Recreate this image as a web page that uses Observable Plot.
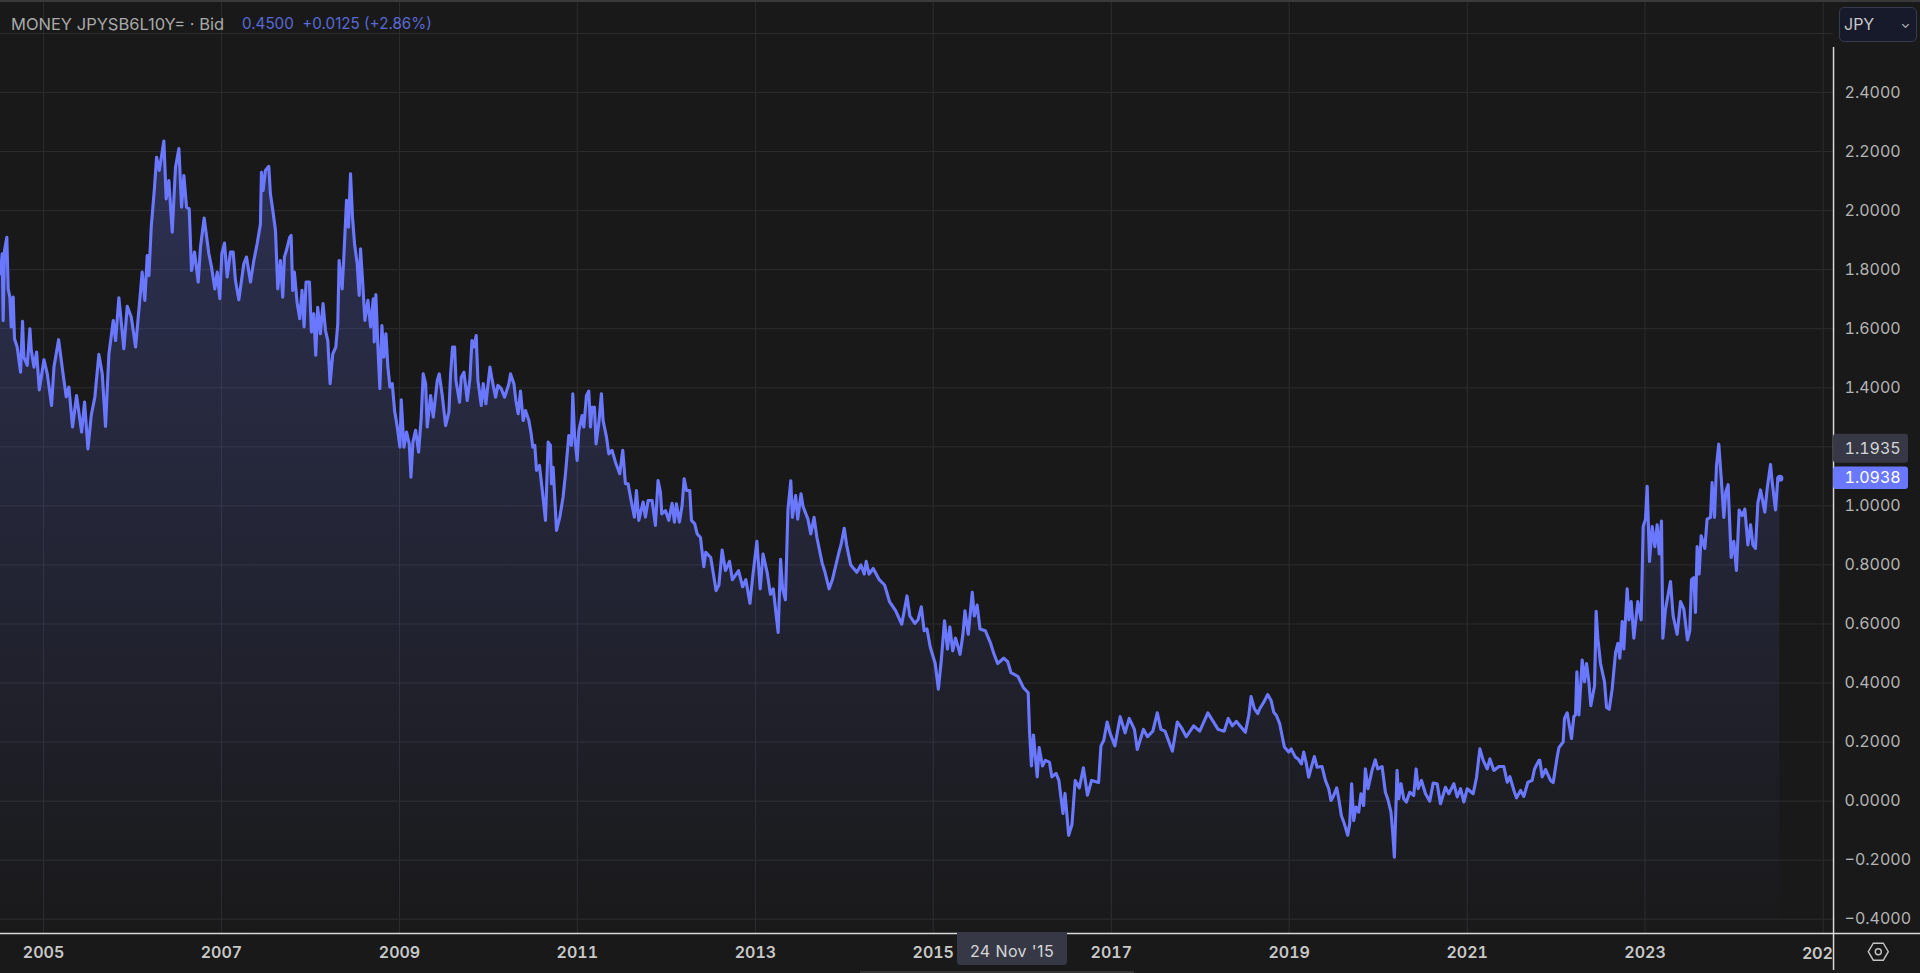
<!DOCTYPE html>
<html>
<head>
<meta charset="utf-8">
<script src="https://cdn.jsdelivr.net/npm/d3@7"></script>
<script src="https://cdn.jsdelivr.net/npm/@observablehq/plot@0.6"></script>
<style>
html,body{margin:0;padding:0;background:#191919;width:1920px;height:973px;overflow:hidden;font-family:Inter,sans-serif}
#chart{position:absolute;left:0;top:0}
.ov{position:absolute;white-space:pre;font-family:Inter,sans-serif}
</style>
</head>
<body>
<div id="chart"></div>
<div class="ov" style="left:0;top:0;width:1920px;height:2px;background:#3a3a3a"></div>
<div class="ov" style="left:11px;top:13.5px;font-size:16.5px;line-height:20px;color:#a9a9a9">MONEY JPYSB6L10Y= · Bid</div>
<div class="ov" style="left:242px;top:13.5px;font-size:15.2px;line-height:20px;color:#5a69d6">0.4500  +0.0125 (+2.86%)</div>
<div class="ov" style="left:1839px;top:7px;width:76px;height:33px;background:#161a2a;border:1px solid #363a4c;border-radius:5px;box-sizing:content-box;color:#c8c8c8;font-size:16px;line-height:33px;text-indent:4px">JPY<span style="position:absolute;right:6px;top:-1px;font-size:12px;color:#c8c8c8">⌄</span></div>
<div class="ov" style="left:957px;top:932px;width:110px;height:33px;background:#363945;border-radius:0 0 4px 4px;color:#d6d6d6;font-size:16px;line-height:38px;text-align:center;letter-spacing:.4px">24 Nov '15</div>
<div class="ov" style="left:860px;top:971px;width:274px;height:2px;background:#333"></div>
<script>
const years = [
2004.517,2004.536,2004.547,2004.562,2004.588,2004.603,2004.622,2004.637,2004.659,2004.674,
2004.704,2004.742,2004.764,2004.779,2004.817,2004.847,2004.862,2004.892,2004.922,2004.952,
2004.974,2005.004,2005.042,2005.090,2005.117,2005.169,2005.214,2005.255,2005.285,2005.326,
2005.371,2005.428,2005.461,2005.499,2005.536,2005.577,2005.622,2005.660,2005.697,2005.735,
2005.784,2005.810,2005.847,2005.903,2005.941,2005.986,2006.035,2006.080,2006.109,2006.139,
2006.166,2006.185,2006.211,2006.248,2006.271,2006.301,2006.331,2006.353,2006.379,2006.409,
2006.447,2006.484,2006.522,2006.552,2006.578,2006.608,2006.638,2006.664,2006.698,2006.739,
2006.765,2006.806,2006.859,2006.889,2006.926,2006.953,2006.982,2007.005,2007.035,2007.065,
2007.102,2007.132,2007.158,2007.196,2007.252,2007.282,2007.327,2007.365,2007.402,2007.439,
2007.450,2007.469,2007.495,2007.533,2007.551,2007.578,2007.608,2007.634,2007.664,2007.690,
2007.709,2007.731,2007.769,2007.784,2007.802,2007.821,2007.851,2007.881,2007.907,2007.930,
2007.952,2007.990,2008.012,2008.039,2008.061,2008.083,2008.113,2008.143,2008.170,2008.196,
2008.222,2008.252,2008.286,2008.308,2008.323,2008.357,2008.376,2008.406,2008.428,2008.451,
2008.473,2008.496,2008.526,2008.548,2008.563,2008.586,2008.612,2008.646,2008.676,2008.706,
2008.717,2008.735,2008.758,2008.780,2008.803,2008.825,2008.848,2008.870,2008.893,2008.919,
2008.945,2008.975,2009.005,2009.020,2009.050,2009.080,2009.110,2009.129,2009.151,2009.181,
2009.215,2009.245,2009.267,2009.294,2009.312,2009.350,2009.380,2009.425,2009.447,2009.481,
2009.519,2009.556,2009.575,2009.597,2009.620,2009.635,2009.676,2009.695,2009.725,2009.762,
2009.792,2009.815,2009.837,2009.863,2009.882,2009.920,2009.942,2009.972,2010.017,2010.043,
2010.081,2010.107,2010.144,2010.182,2010.231,2010.249,2010.287,2010.309,2010.335,2010.361,
2010.391,2010.417,2010.455,2010.481,2010.499,2010.522,2010.541,2010.574,2010.604,2010.642,
2010.672,2010.698,2010.709,2010.728,2010.766,2010.803,2010.840,2010.867,2010.904,2010.934,
2010.949,2010.968,2010.998,2011.017,2011.054,2011.073,2011.103,2011.129,2011.148,2011.166,
2011.193,2011.211,2011.241,2011.271,2011.290,2011.328,2011.354,2011.391,2011.429,2011.477,
2011.511,2011.541,2011.571,2011.605,2011.642,2011.665,2011.691,2011.740,2011.766,2011.796,
2011.841,2011.878,2011.908,2011.935,2011.950,2011.991,2012.028,2012.066,2012.092,2012.114,
2012.148,2012.178,2012.201,2012.227,2012.264,2012.283,2012.320,2012.347,2012.384,2012.421,
2012.444,2012.499,2012.559,2012.591,2012.627,2012.664,2012.710,2012.742,2012.811,2012.857,
2012.893,2012.939,2012.971,2013.017,2013.054,2013.086,2013.132,2013.169,2013.201,2013.256,
2013.283,2013.306,2013.338,2013.366,2013.398,2013.416,2013.453,2013.476,2013.513,2013.536,
2013.591,2013.623,2013.660,2013.692,2013.751,2013.783,2013.829,2013.866,2013.935,2013.967,
2013.999,2014.026,2014.072,2014.141,2014.187,2014.224,2014.246,2014.279,2014.325,2014.393,
2014.453,2014.508,2014.577,2014.646,2014.705,2014.737,2014.793,2014.829,2014.866,2014.898,
2014.930,2014.967,2015.022,2015.058,2015.091,2015.127,2015.160,2015.187,2015.219,2015.251,
2015.302,2015.334,2015.357,2015.394,2015.439,2015.462,2015.494,2015.526,2015.586,2015.646,
2015.678,2015.724,2015.793,2015.838,2015.875,2015.953,2016.013,2016.068,2016.082,2016.104,
2016.127,2016.169,2016.191,2016.228,2016.260,2016.306,2016.334,2016.380,2016.412,2016.458,
2016.481,2016.522,2016.559,2016.595,2016.641,2016.687,2016.733,2016.779,2016.857,2016.884,
2016.916,2016.953,2016.985,2017.040,2017.100,2017.155,2017.201,2017.260,2017.292,2017.361,
2017.407,2017.467,2017.517,2017.558,2017.604,2017.687,2017.742,2017.788,2017.843,2017.926,
2017.994,2018.086,2018.201,2018.270,2018.315,2018.361,2018.407,2018.508,2018.546,2018.572,
2018.609,2018.647,2018.669,2018.714,2018.759,2018.797,2018.827,2018.857,2018.894,2018.920,
2018.947,2018.995,2019.022,2019.070,2019.100,2019.138,2019.164,2019.194,2019.220,2019.250,
2019.284,2019.314,2019.370,2019.408,2019.445,2019.471,2019.501,2019.535,2019.561,2019.587,
2019.621,2019.659,2019.681,2019.703,2019.726,2019.752,2019.782,2019.808,2019.838,2019.857,
2019.887,2019.932,2019.969,2019.996,2020.045,2020.082,2020.108,2020.145,2020.164,2020.183,
2020.198,2020.213,2020.232,2020.258,2020.288,2020.318,2020.355,2020.400,2020.427,2020.449,
2020.487,2020.532,2020.580,2020.618,2020.663,2020.700,2020.756,2020.794,2020.850,2020.888,
2020.925,2020.963,2021.000,2021.067,2021.105,2021.142,2021.180,2021.225,2021.255,2021.300,
2021.356,2021.412,2021.450,2021.480,2021.525,2021.555,2021.600,2021.637,2021.682,2021.730,
2021.757,2021.806,2021.817,2021.843,2021.881,2021.937,2021.967,2022.012,2022.031,2022.079,
2022.094,2022.124,2022.173,2022.199,2022.218,2022.233,2022.256,2022.293,2022.319,2022.342,
2022.368,2022.390,2022.432,2022.450,2022.469,2022.499,2022.544,2022.567,2022.597,2022.630,
2022.668,2022.694,2022.716,2022.743,2022.761,2022.799,2022.818,2022.844,2022.874,2022.919,
2022.956,2022.979,2023.005,2023.024,2023.050,2023.080,2023.110,2023.136,2023.159,2023.185,
2023.200,2023.230,2023.286,2023.316,2023.361,2023.399,2023.436,2023.477,2023.503,2023.522,
2023.548,2023.567,2023.586,2023.608,2023.631,2023.672,2023.698,2023.736,2023.754,2023.781,
2023.803,2023.829,2023.856,2023.886,2023.908,2023.934,2023.968,2023.998,2024.028,2024.058,
2024.092,2024.122,2024.156,2024.186,2024.212,2024.241,2024.268,2024.298,2024.346,2024.373,
2024.410,2024.429,2024.466,2024.492,2024.515
];
const yields = [
1.786,1.854,1.628,1.865,1.910,1.735,1.707,1.606,1.707,1.566,
1.538,1.453,1.625,1.504,1.476,1.600,1.527,1.470,1.521,1.393,
1.436,1.495,1.447,1.340,1.470,1.563,1.459,1.369,1.402,1.267,
1.374,1.250,1.352,1.193,1.306,1.369,1.513,1.447,1.269,1.515,
1.628,1.560,1.705,1.532,1.676,1.640,1.538,1.690,1.792,1.696,
1.848,1.780,1.944,2.080,2.181,2.136,2.193,2.236,2.040,2.102,
1.927,2.147,2.210,2.012,2.119,2.012,2.006,1.797,1.860,1.758,
1.877,1.975,1.854,1.809,1.735,1.792,1.702,1.854,1.890,1.775,
1.860,1.860,1.764,1.698,1.820,1.843,1.758,1.831,1.888,1.955,
2.130,2.068,2.136,2.150,2.057,2.001,1.933,1.735,1.831,1.707,
1.843,1.865,1.910,1.916,1.730,1.792,1.690,1.634,1.730,1.606,
1.758,1.758,1.589,1.651,1.510,1.673,1.583,1.685,1.594,1.560,
1.414,1.515,1.538,1.617,1.831,1.735,1.843,2.035,1.944,2.125,
1.978,1.888,1.820,1.713,1.871,1.764,1.628,1.696,1.606,1.701,
1.555,1.716,1.538,1.397,1.611,1.504,1.583,1.470,1.402,1.414,
1.323,1.267,1.199,1.359,1.199,1.250,1.210,1.097,1.216,1.256,
1.182,1.301,1.447,1.414,1.267,1.374,1.301,1.425,1.447,1.374,
1.272,1.318,1.447,1.538,1.538,1.425,1.351,1.436,1.453,1.357,
1.430,1.560,1.538,1.577,1.425,1.340,1.414,1.346,1.470,1.425,
1.368,1.408,1.397,1.368,1.414,1.447,1.414,1.357,1.312,1.389,
1.289,1.323,1.289,1.244,1.199,1.205,1.120,1.137,1.058,0.951,
1.216,1.205,1.075,1.131,0.917,0.962,1.030,1.109,1.238,1.205,
1.380,1.244,1.154,1.255,1.306,1.267,1.374,1.389,1.267,1.334,
1.334,1.210,1.278,1.380,1.289,1.233,1.176,1.188,1.148,1.109,
1.188,1.075,1.075,1.018,0.962,1.052,0.951,1.013,0.962,1.018,
1.018,0.934,1.086,1.047,0.973,0.984,0.951,1.009,0.945,1.007,
0.945,1.001,1.092,1.052,1.052,0.951,0.939,0.905,0.893,0.794,
0.843,0.825,0.713,0.732,0.850,0.781,0.812,0.750,0.781,0.726,
0.750,0.670,0.763,0.880,0.719,0.837,0.775,0.701,0.719,0.571,
0.819,0.719,0.682,0.986,1.085,0.961,1.035,0.955,1.041,0.998,
0.955,0.905,0.961,0.893,0.806,0.775,0.719,0.750,0.837,0.874,
0.924,0.868,0.800,0.775,0.800,0.769,0.812,0.769,0.788,0.750,
0.732,0.676,0.645,0.599,0.695,0.627,0.602,0.614,0.658,0.577,
0.583,0.521,0.466,0.379,0.478,0.611,0.515,0.590,0.509,0.552,
0.497,0.565,0.645,0.565,0.707,0.627,0.664,0.583,0.577,0.534,
0.503,0.466,0.484,0.472,0.435,0.422,0.385,0.367,0.243,0.119,
0.224,0.082,0.181,0.119,0.138,0.132,0.082,0.094,0.070,-0.042,
0.026,-0.116,-0.079,0.070,0.045,0.113,0.020,0.070,0.063,0.187,
0.206,0.268,0.231,0.187,0.286,0.231,0.280,0.243,0.175,0.243,
0.218,0.237,0.299,0.243,0.237,0.169,0.268,0.249,0.218,0.255,
0.237,0.299,0.243,0.237,0.280,0.255,0.270,0.233,0.290,0.354,
0.313,0.296,0.313,0.335,0.361,0.341,0.301,0.290,0.262,0.222,
0.183,0.166,0.177,0.149,0.143,0.126,0.166,0.126,0.081,0.115,
0.151,0.115,0.117,0.070,0.042,0.002,0.019,0.045,0.002,-0.049,
-0.077,-0.116,-0.077,0.059,-0.066,-0.020,-0.037,0.025,-0.015,0.109,
0.042,0.104,0.140,0.109,0.117,0.030,0.008,-0.037,-0.105,-0.190,
-0.043,0.104,0.008,0.059,0.008,-0.003,0.030,0.019,0.109,0.042,
0.070,0.025,0.000,0.061,0.059,-0.009,0.047,0.025,0.059,0.014,
0.042,-0.003,0.042,0.025,0.081,0.177,0.138,0.109,0.143,0.104,
0.117,0.117,0.064,0.083,0.036,0.011,0.036,0.016,0.064,0.070,
0.109,0.138,0.138,0.082,0.107,0.070,0.063,0.150,0.181,0.200,
0.280,0.299,0.212,0.286,0.292,0.438,0.292,0.478,0.404,0.466,
0.404,0.323,0.391,0.643,0.552,0.466,0.404,0.317,0.311,0.379,
0.503,0.534,0.484,0.608,0.515,0.719,0.614,0.676,0.552,0.676,
0.614,0.930,0.955,1.066,0.812,0.930,0.862,0.936,0.837,0.949,
0.552,0.651,0.744,0.627,0.565,0.676,0.651,0.546,0.577,0.750,
0.757,0.639,0.862,0.769,0.899,0.856,0.955,0.961,1.079,0.961,
1.134,1.209,1.097,0.961,1.048,1.072,0.825,0.880,0.781,0.986,
0.967,0.989,0.868,0.936,0.868,0.856,1.010,1.054,0.979,1.060,
1.140,1.079,0.986,1.0938,1.0938
];
const gridLevels = [-0.4,-0.2,0,0.2,0.4,0.6,0.8,1,1.2,1.4,1.6,1.8,2,2.2,2.4,2.6];
const labelLevels = [-0.4,-0.2,0,0.2,0.4,0.6,0.8,1,1.4,1.6,1.8,2,2.2,2.4];
const gridYears = [2005,2007,2009,2011,2013,2015,2017,2019,2021,2023,2025];
const labelYears = [2005,2007,2009,2011,2013,2015,2017,2019,2021,2023];
const crosshairValue = 1.1935;
const lastValue = 1.0938;

const toDate = y => {
  const yr = Math.floor(y);
  const a = Date.UTC(yr,0,1), b = Date.UTC(yr+1,0,1);
  return new Date(a + (y-yr)*(b-a));
};
const series = years.map((y,i)=>({date:toDate(y), value:yields[i]}));
const last = series[series.length-1];

const X0 = 2004.517, X1 = 2026.095, XAxis = 2025.117, XTag = 2025.96;
const YTop = 2.71, YBase = -0.4485, YLow = -0.574, YLineTop = 2.553;
const BLUE = "#6a78ff", GRID = "#2d2d2f", AXIS = "#d9d9d9", TAG = "#363945";

const defs = () => {
  const g = d3.create("svg:defs");
  const lg = g.append("linearGradient").attr("id","fade").attr("x1",0).attr("y1",0).attr("x2",0).attr("y2",1);
  lg.append("stop").attr("offset","0%").attr("stop-color",BLUE).attr("stop-opacity",0.25);
  lg.append("stop").attr("offset","100%").attr("stop-color",BLUE).attr("stop-opacity",0.005);
  return g.node();
};
const gear = () => {
  const g = d3.create("svg:g").attr("transform","translate(1878.3,951.7)").attr("fill","none").attr("stroke","#c4c4c4").attr("stroke-width",1.4);
  g.append("polygon").attr("points","-10,0 -5,-8.5 5,-8.5 10,0 5,8.5 -5,8.5");
  g.append("circle").attr("r",3);
  return g.node();
};

const chart = Plot.plot({
  width:1920, height:973,
  marginLeft:0, marginRight:0, marginTop:0, marginBottom:40,
  style:{background:"#191919", fontFamily:"Inter, sans-serif"},
  x:{type:"utc", domain:[toDate(X0),toDate(X1)], range:[0,1920]},
  y:{domain:[-0.4,2.6], range:[918.7,33]},
  marks:[
    defs,
    Plot.gridX(gridYears.map(toDate),{y1:YTop,y2:YBase,stroke:GRID,strokeOpacity:1,strokeWidth:1}),
    Plot.gridY(gridLevels,{x1:toDate(X0),x2:toDate(XAxis),stroke:GRID,strokeOpacity:1,strokeWidth:1}),
    Plot.areaY(series,{x:"date",y1:()=>YBase,y2:"value",fill:"url(#fade)"}),
    Plot.lineY(series,{x:"date",y:"value",stroke:BLUE,strokeWidth:3.1,strokeLinejoin:"round",strokeLinecap:"round"}),
    Plot.dot([last],{x:"date",y:"value",r:3.5,fill:BLUE}),
    Plot.ruleY([YBase],{x1:toDate(X0),x2:toDate(X1),stroke:AXIS,strokeWidth:1.5}),
    Plot.ruleX([toDate(XAxis)],{y1:YLow,y2:YLineTop,stroke:AXIS,strokeWidth:1.5}),
    Plot.rect([crosshairValue],{x1:toDate(XAxis),x2:toDate(XTag),y1:d=>d-0.0491,y2:d=>d+0.0491,fill:TAG,rx:3}),
    Plot.rect([lastValue],{x1:toDate(XAxis),x2:toDate(XTag),y1:d=>d-0.0381,y2:d=>d+0.0381,fill:BLUE,rx:3}),
    Plot.axisY(labelLevels,{anchor:"left",tickSize:0,tickPadding:0,dx:1844,textAnchor:"start",tickFormat:d3.format(".4f"),fontSize:16,fontVariant:"tabular-nums",fill:"#b4b4b4",label:null}),
    Plot.text([crosshairValue],{y:d=>d,text:d3.format(".4f"),frameAnchor:"left",dx:1844,textAnchor:"start",fontSize:16,fontVariant:"tabular-nums",fill:"#d4d4d4"}),
    Plot.text([lastValue],{y:d=>d,text:d3.format(".4f"),frameAnchor:"left",dx:1844,textAnchor:"start",fontSize:16,fontVariant:"tabular-nums",fill:"#ffffff"}),
    Plot.axisX(labelYears.map(toDate),{anchor:"bottom",tickSize:0,tickPadding:13,tickFormat:d=>String(d.getUTCFullYear()),fontSize:16,fontWeight:600,fill:"#c8c8c8",label:null}),
    Plot.text([toDate(2025)],{x:d=>d,text:()=>"202",frameAnchor:"bottom",textAnchor:"start",dx:-21,dy:25,lineAnchor:"bottom",fontSize:16,fontWeight:600,fill:"#c8c8c8"}),
    gear
  ]
});
document.getElementById("chart").appendChild(chart);
</script>
</body>
</html>
